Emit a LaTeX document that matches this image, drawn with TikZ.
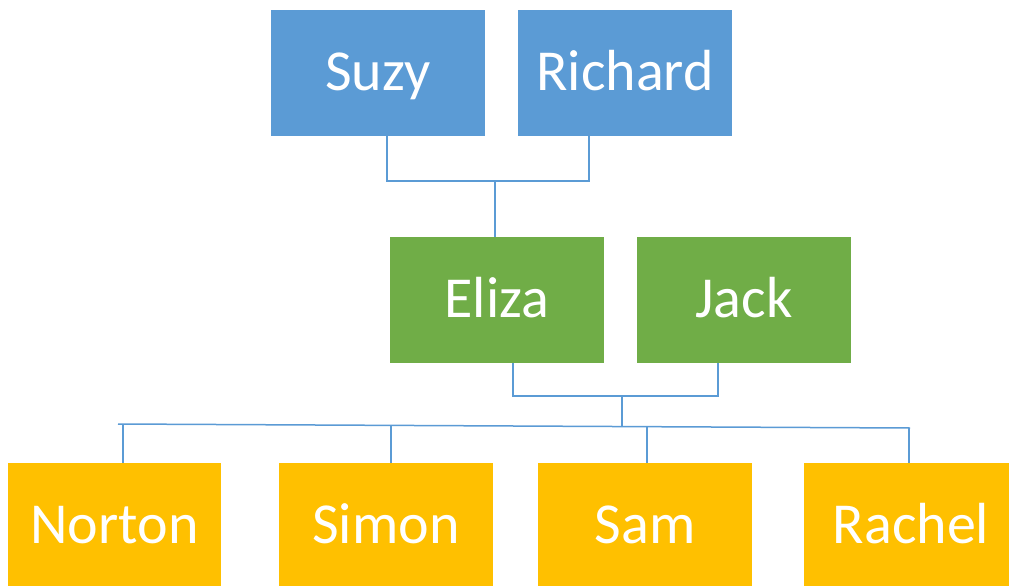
\documentclass[tikz,border=0pt]{standalone}
\usepackage{fontspec}
\setmainfont{Carlito}
\definecolor{cblue}{HTML}{5B9BD5}
\definecolor{cgreen}{HTML}{70AD47}
\definecolor{corange}{HTML}{FFC000}
\definecolor{cline}{HTML}{5B9BD5}
\tikzset{
  person/.style={rectangle, inner sep=0pt, minimum width=214pt, minimum height=126pt,
    text=white, font=\fontsize{58}{62}\selectfont, text height=41pt, text depth=7pt},
  gen1/.style={person, fill=cblue},
  gen2/.style={person, fill=cgreen},
  gen3/.style={person, fill=corange},
  conn/.style={draw=cline, line width=1.5pt}
}
\begin{document}
\begin{tikzpicture}[x=1pt,y=-1pt]
\useasboundingbox (0,0) rectangle (1009,586);
\fill[white] (0,0) rectangle (1009,586);
% nodes
\node[gen1] (Suzy) at (378,73) {Suzy};
\node[gen1] (Richard) at (625,73) {Richard};
\node[gen2] (Eliza) at (497,300) {Eliza};
\node[gen2] (Jack) at (744,300) {Jack};
\node[gen3, minimum width=213pt] (Norton) at (114.5,526) {Norton};
\node[gen3] (Simon) at (386,526) {Simon};
\node[gen3] (Sam) at (645,526) {Sam};
\node[gen3, minimum width=214pt] (Rachel) at (911,526) {Rachel};
% junctions
\coordinate (tl) at (387,181);
\coordinate (tr) at (589,181);
\coordinate (tm) at (495,181);
\coordinate (ml) at (513,396);
\coordinate (mr) at (718,396);
\coordinate (mm) at (622,396);
\coordinate (bm) at (622,425.5);
\coordinate (bl) at (118,424);
\coordinate (br) at (910,428);
\coordinate (n1) at (123,424.1);
\coordinate (n2) at (391,425.5);
\coordinate (n3) at (647,426.8);
\coordinate (n4) at (909,428);
% connectors
\draw[conn] (Suzy.south -| tl) -- (tl) -- (tr) -- (Richard.south -| tr);
\draw[conn] (tm) -- (Eliza.north -| tm);
\draw[conn] (Eliza.south -| ml) -- (ml) -- (mr) -- (Jack.south -| mr);
\draw[conn] (mm) -- (bm);
\draw[conn] (bl) -- (br);
\draw[conn] (n1) -- (Norton.north -| n1);
\draw[conn] (n2) -- (Simon.north -| n2);
\draw[conn] (n3) -- (Sam.north -| n3);
\draw[conn] (n4) -- (Rachel.north -| n4);
\end{tikzpicture}
\end{document}
